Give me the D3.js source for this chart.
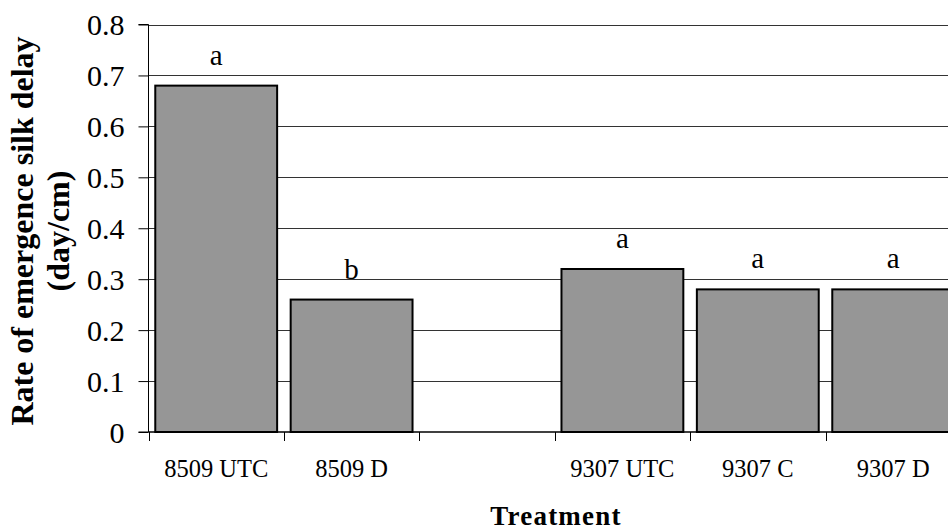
<!DOCTYPE html>
<html>
<head>
<meta charset="utf-8">
<script src="https://cdn.jsdelivr.net/npm/d3@7"></script>
<style>
  body { margin: 0; background: #fff; }
  svg text { font-family: "Liberation Serif", "DejaVu Serif", serif; fill: #000; }
</style>
</head>
<body>
<script>
const w = 948;
const h = 531;

// data
const treatments = ["8509 UTC", "8509 D", "", "9307 UTC", "9307 C", "9307 D"];
const rates = [0.68, 0.26, null, 0.32, 0.28, 0.28];
const letters = ["a", "b", "", "a", "a", "a"];
const yTicks = [0, 0.1, 0.2, 0.3, 0.4, 0.5, 0.6, 0.7, 0.8];

const rows = treatments.map((t, i) => ({ key: "c" + i, name: t, value: rates[i], letter: letters[i] }));

const serif = '"Liberation Serif", "DejaVu Serif", serif';
const plotLeft = 148.5, plotTop = 24.5, plotBottom = 432;
const step = 135.4;

const svg = d3.select("body")
    .append("svg")
    .attr("width", w)
    .attr("height", h)

const xScale = d3.scaleBand()
    .domain(rows.map(d => d.key))
    .range([plotLeft, plotLeft + step * 6])
    .paddingInner(0.1)
    .paddingOuter(0.05)

const yScale = d3.scaleLinear()
    .domain([0, 0.8])
    .range([plotBottom, plotTop])

// gridlines
svg.append("g")
    .selectAll("line")
    .data(yTicks.filter(d => d > 0))
    .enter()
    .append("line")
      .attr("x1", plotLeft)
      .attr("x2", w)
      .attr("y1", d => Math.round(yScale(d)) + 0.5)
      .attr("y2", d => Math.round(yScale(d)) + 0.5)
      .style("stroke", "#333")
      .style("stroke-width", 1)

// bars
const bars = rows.filter(d => d.value != null);
svg.selectAll(".bar")
    .data(bars)
    .enter()
    .append("rect")
      .attr("class", "bar")
      .attr("x", d => xScale(d.key))
      .attr("y", d => yScale(d.value))
      .attr("width", xScale.bandwidth())
      .attr("height", d => plotBottom - yScale(d.value))
      .style("fill", "#969696")
      .style("stroke", "#000")
      .style("stroke-width", 2)

// significance letters
svg.selectAll(".letter")
    .data(bars)
    .enter()
    .append("text")
      .attr("class", "letter")
      .attr("x", d => xScale(d.key) + xScale.bandwidth() / 2)
      .attr("y", d => yScale(d.value) - 21)
      .attr("text-anchor", "middle")
      .style("font-family", serif)
      .style("font-size", "29px")
      .text(d => d.letter)

// Left axis
const yAxis = d3.axisLeft(yScale)
    .tickValues(yTicks)
    .tickSize(10)
    .tickPadding(14)
    .tickFormat(d => d === 0 ? "0" : d3.format(".1f")(d))

const yg = svg.append("g")
    .attr("transform", `translate(${plotLeft}, 0)`)
    .call(yAxis)
yg.select(".domain").attr("d", `M-10,${plotTop}H0V${plotBottom}H-10`).style("stroke", "#000")
yg.selectAll(".tick line").style("stroke", "#000")
yg.selectAll(".tick text")
    .style("font-family", serif)
    .style("font-size", "30px")
    .style("fill", "#000")
    .attr("dy", "0.34em")

// Bottom axis: ticks on band boundaries
svg.append("line")
    .attr("x1", plotLeft)
    .attr("x2", w)
    .attr("y1", plotBottom)
    .attr("y2", plotBottom)
    .style("stroke", "#000")
    .style("stroke-width", 1.5)

svg.append("g")
    .selectAll("line")
    .data(d3.range(7))
    .enter()
    .append("line")
      .attr("x1", i => Math.round(plotLeft + i * xScale.step()) + 0.5)
      .attr("x2", i => Math.round(plotLeft + i * xScale.step()) + 0.5)
      .attr("y1", plotBottom)
      .attr("y2", plotBottom + 9)
      .style("stroke", "#000")

svg.append("g")
    .selectAll("text")
    .data(rows)
    .enter()
    .append("text")
      .attr("x", d => xScale(d.key) + xScale.bandwidth() / 2)
      .attr("y", 477)
      .attr("text-anchor", "middle")
      .style("font-family", serif)
      .style("font-size", "24.5px")
      .text(d => d.name)

// axis titles
svg.append("text")
    .attr("x", 556)
    .attr("y", 525)
    .attr("text-anchor", "middle")
    .style("font-family", serif)
    .style("font-size", "27px")
    .style("font-weight", "bold")
    .style("letter-spacing", "1.2px")
    .text("Treatment")

const yt = svg.append("text")
    .attr("transform", "translate(33, 231) rotate(-90)")
    .attr("text-anchor", "middle")
    .style("font-family", serif)
    .style("font-size", "32px")
    .style("font-weight", "bold")
yt.append("tspan").attr("x", 0).attr("y", 0).text("Rate of emergence silk delay")
yt.append("tspan").attr("x", 0).attr("y", 36).text("(day/cm)")
</script>
</body>
</html>
